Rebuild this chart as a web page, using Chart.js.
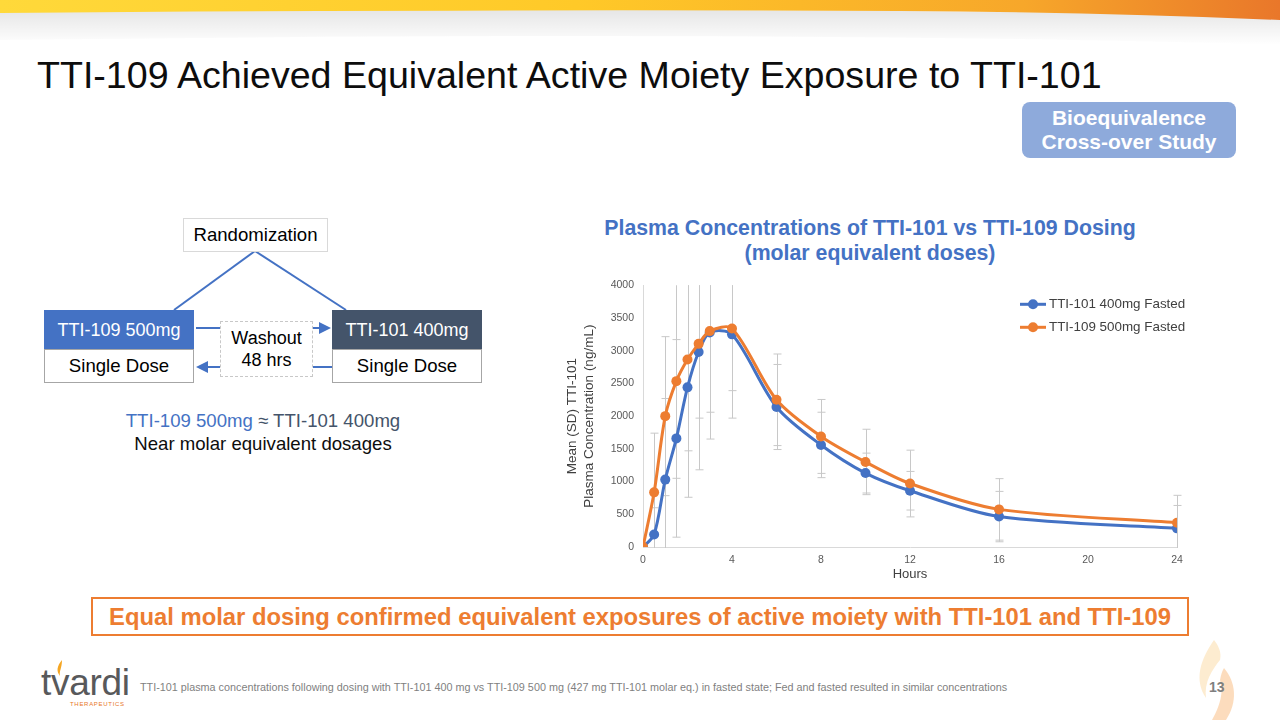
<!DOCTYPE html>
<html>
<head>
<meta charset="utf-8">
<script src="https://cdn.jsdelivr.net/npm/chart.js@4"></script>
<style>
  html, body { margin: 0; padding: 0; }
  body { width: 1280px; height: 720px; position: relative; overflow: hidden; background: #fff;
         font-family: "Liberation Sans", Arial, sans-serif; }
  .abs { position: absolute; }
  #title { left: 37px; top: 53px; font-size: 37.6px; color: #0d0d0d; line-height: 44px; white-space: nowrap; }
  #study { left: 1022px; top: 102px; width: 214px; height: 56px; border-radius: 8px; background: #8eaadb;
           color: #fff; font-weight: bold; font-size: 21px; line-height: 24px; text-align: center;
           display: flex; align-items: center; justify-content: center; }
  .box { position: absolute; box-sizing: border-box; display: flex; align-items: center; justify-content: center;
         font-size: 18.6px; white-space: nowrap; }
  #chartTitle { left: 560px; width: 620px; top: 216px; text-align: center; color: #4472c4; font-weight: bold;
                font-size: 21.3px; line-height: 25px; }
  #summary { left: 91px; top: 597px; width: 1098px; height: 39px; box-sizing: border-box; border: 2px solid #ed7d31;
             color: #ed7d31; font-weight: bold; font-size: 23.8px; display: flex; align-items: center; justify-content: center;
             white-space: nowrap; }
  #foot { left: 140px; top: 681px; font-size: 10.8px; color: #7f7f7f; white-space: nowrap; }
  #page { left: 1209px; top: 679px; font-size: 14px; font-weight: bold; color: #7f7f7f; }
</style>
</head>
<body>

<!-- top banner -->
<svg class="abs" style="left:0;top:0" width="1280" height="60">
  <defs>
    <linearGradient id="band" x1="0" x2="1" y1="0" y2="0">
      <stop offset="0" stop-color="#ffd93a"/>
      <stop offset="0.45" stop-color="#ffc928"/>
      <stop offset="0.8" stop-color="#f7a72a"/>
      <stop offset="1" stop-color="#e9772a"/>
    </linearGradient>
    <linearGradient id="shade" x1="0" x2="0" y1="0" y2="1">
      <stop offset="0" stop-color="#000" stop-opacity="0.10"/>
      <stop offset="1" stop-color="#000" stop-opacity="0"/>
    </linearGradient>
  </defs>
  <path d="M0,12 Q500,8 900,11 T1280,20 V45 Q800,30 0,40 Z" fill="url(#shade)"/>
  <path d="M0,0 H1280 V20 Q1100,12 900,11 Q500,9 0,13 Z" fill="url(#band)"/>
</svg>

<div id="title" class="abs">TTI-109 Achieved Equivalent Active Moiety Exposure to TTI-101</div>
<div id="study" class="abs">Bioequivalence<br>Cross-over Study</div>

<!-- study design diagram -->
<svg class="abs" style="left:0;top:0" width="560" height="460">
  <defs>
    <marker id="arr" markerWidth="6" markerHeight="6" refX="5" refY="3" orient="auto">
      <path d="M0,0 L6,3 L0,6 Z" fill="#4472c4"/>
    </marker>
  </defs>
  <line x1="255" y1="251" x2="174" y2="310" stroke="#4472c4" stroke-width="2"/>
  <line x1="255" y1="251" x2="346" y2="310" stroke="#4472c4" stroke-width="2"/>
  <line x1="196" y1="328" x2="329" y2="328" stroke="#4472c4" stroke-width="2" marker-end="url(#arr)"/>
  <line x1="332" y1="367" x2="198" y2="367" stroke="#4472c4" stroke-width="2" marker-end="url(#arr)"/>
</svg>
<div class="box" style="left:183px;top:218px;width:145px;height:34px;border:1px solid #d9d9d9;background:#fff;">Randomization</div>
<div class="box" style="left:44px;top:310px;width:150px;height:40px;background:#4472c4;color:#fff;font-size:18px;">TTI-109 500mg</div>
<div class="box" style="left:44px;top:349px;width:150px;height:34px;border:1px solid #a6a6a6;background:#fff;">Single Dose</div>
<div class="box" style="left:332px;top:310px;width:150px;height:40px;background:#44546a;color:#fff;font-size:18px;">TTI-101 400mg</div>
<div class="box" style="left:332px;top:349px;width:150px;height:34px;border:1px solid #a6a6a6;background:#fff;">Single Dose</div>
<div class="box" style="left:220px;top:321px;width:93px;height:56px;border:1px dashed #c8c8c8;background:#fff;line-height:22px;text-align:center;white-space:normal;font-size:18px;">Washout<br>48 hrs</div>
<div class="abs" style="left:44px;width:438px;top:409px;text-align:center;font-size:18.6px;line-height:23px;">
  <span style="color:#4472c4">TTI-109 500mg</span> <span style="color:#44546a">≈ TTI-101 400mg</span><br>
  <span style="color:#0d0d0d">Near molar equivalent dosages</span>
</div>

<div id="chartTitle" class="abs">Plasma Concentrations of TTI-101 vs TTI-109 Dosing<br>(molar equivalent doses)</div>
<canvas id="pk" class="abs" style="left:560px;top:270px" width="640" height="320"></canvas>

<div id="summary" class="abs">Equal molar dosing confirmed equivalent exposures of active moiety with TTI-101 and TTI-109</div>

<!-- footer -->
<div class="abs" style="left:41px;top:663px;font-size:37px;color:#58595b;letter-spacing:-0.3px;line-height:40px;">tvardi</div>
<svg class="abs" style="left:51px;top:659px" width="20" height="22">
  <path d="M11,1 C6,7 5,12 9,17 C8,12 11,9 11,1 Z" fill="#f5a623"/>
</svg>
<div class="abs" style="left:70px;top:701px;font-size:6px;color:#e8772a;letter-spacing:0.7px;">THERAPEUTICS</div>
<div id="foot" class="abs">TTI-101 plasma concentrations following dosing with TTI-101 400 mg vs TTI-109 500 mg (427 mg TTI-101 molar eq.) in fasted state; Fed and fasted resulted in similar concentrations</div>
<svg class="abs" style="left:1190px;top:630px" width="70" height="90">
  <path d="M24,10 C10,30 4,50 16,68 C14,52 22,40 30,30 C32,22 28,15 24,10 Z" fill="#fde7c4" opacity="0.8"/>
  <path d="M34,38 C46,52 48,72 36,90 L22,90 C30,76 34,62 30,50 C31,45 32,41 34,38 Z" fill="#fbd3ad" opacity="0.8"/>
</svg>
<div id="page" class="abs">13</div>

<script>
// sampling times (hours)
const hours = [0, 0.5, 1, 1.5, 2, 2.5, 3, 4, 6, 8, 10, 12, 16, 24];
// mean plasma concentration, ng/mL
const tti101Mean = [0, 190, 1030, 1660, 2440, 2980, 3280, 3250, 2140, 1560, 1130, 860, 465, 285];
const tti109Mean = [0, 835, 2000, 2535, 2865, 3105, 3300, 3340, 2250, 1690, 1300, 970, 575, 370];
// standard deviations
const tti101SD = [0, 410, 1240, 1510, 1680, 1800, 1630, 1280, 650, 500, 305, 295, 385, 350];
const tti109SD = [0, 905, 1215, 1485, 1395, 1135, 1240, 950, 700, 565, 500, 510, 470, 420];
const seriesNames = ["TTI-101 400mg Fasted", "TTI-109 500mg Fasted"];
const xTicks = [0, 4, 8, 12, 16, 20, 24];

const blue = "#4472c4", orange = "#ed7d31";
const FONT = "'Liberation Sans', Arial, sans-serif";

// error bars, drawn under the lines
const errorBars = {
  id: "errorBars",
  beforeDatasetsDraw(chart) {
    const { ctx, chartArea, scales: { x, y } } = chart;
    const sds = [tti101SD, tti109SD];
    ctx.save();
    ctx.beginPath();
    ctx.rect(chartArea.left - 10, chartArea.top, chartArea.width + 20, chartArea.height + 1);
    ctx.clip();
    ctx.strokeStyle = "#c8c8c8";
    ctx.lineWidth = 1;
    chart.data.datasets.forEach((ds) => {
      ds.data.forEach((pt) => {
        const sd = sds[ds.sdIndex][hours.indexOf(pt.x)];
        if (!sd) return;
        const px = Math.round(x.getPixelForValue(pt.x)) + 0.5;
        const top = y.getPixelForValue(pt.y + sd);
        const bot = y.getPixelForValue(pt.y - sd);
        ctx.beginPath();
        ctx.moveTo(px, top); ctx.lineTo(px, bot);
        ctx.moveTo(px - 4, top); ctx.lineTo(px + 4, top);
        ctx.moveTo(px - 4, bot); ctx.lineTo(px + 4, bot);
        ctx.stroke();
      });
    });
    ctx.restore();
  }
};

// legend inside the plot, top right
const innerLegend = {
  id: "innerLegend",
  afterDraw(chart) {
    const { ctx, chartArea } = chart;
    const items = [[seriesNames[0], blue], [seriesNames[1], orange]];
    ctx.save();
    ctx.font = "13.4px " + FONT;
    ctx.textBaseline = "middle";
    items.forEach(([label, color], i) => {
      const x0 = chartArea.right - 157;
      const yy = chartArea.top + 19 + i * 23;
      ctx.strokeStyle = color;
      ctx.lineWidth = 3;
      ctx.beginPath(); ctx.moveTo(x0, yy); ctx.lineTo(x0 + 26, yy); ctx.stroke();
      ctx.fillStyle = color;
      ctx.beginPath(); ctx.arc(x0 + 13, yy, 5, 0, Math.PI * 2); ctx.fill();
      ctx.fillStyle = "#404040";
      ctx.fillText(label, x0 + 29, yy);
    });
    ctx.restore();
  }
};

const toPoints = (vals) => hours.map((h, i) => ({ x: h, y: vals[i] }));

new Chart(document.getElementById("pk"), {
  type: "line",
  data: {
    datasets: [
      { label: seriesNames[0], data: toPoints(tti101Mean), sdIndex: 0, borderColor: blue, backgroundColor: blue,
        borderWidth: 3, pointRadius: 5, pointBorderWidth: 0, tension: 0.3, order: 1 },
      { label: seriesNames[1], data: toPoints(tti109Mean), sdIndex: 1, borderColor: orange, backgroundColor: orange,
        borderWidth: 3, pointRadius: 5, pointBorderWidth: 0, tension: 0.3, order: 0 }
    ]
  },
  options: {
    responsive: false,
    animation: false,
    layout: { padding: { top: 11, right: 23, left: 0, bottom: 0 } },
    plugins: { legend: { display: false }, tooltip: { enabled: false } },
    scales: {
      x: {
        type: "linear", min: 0, max: 24,
        afterBuildTicks: (s) => { s.ticks = xTicks.map(v => ({ value: v })); },
        afterFit: (s) => { s.height = 43; },
        grid: { display: false, drawTicks: false },
        border: { display: true, color: "#d9d9d9", width: 1 },
        ticks: { padding: 7, color: "#595959", font: { size: 10.5, family: FONT } },
        title: { display: true, text: "Hours", color: "#404040", padding: { top: 0, bottom: 8 },
                 font: { size: 13, family: FONT } }
      },
      y: {
        min: 0, max: 4000,
        ticks: { stepSize: 500, padding: 9, color: "#595959", format: { useGrouping: false },
                 font: { size: 10.5, family: FONT } },
        afterFit: (s) => { s.width = 83; },
        grid: { display: false, drawTicks: false },
        border: { display: true, color: "#d9d9d9", width: 1 },
        title: { display: true, text: ["Mean (SD) TTI-101", "Plasma Concentration (ng/mL)"], color: "#404040",
                 padding: { top: 3.5, bottom: 0 },
                 font: { size: 13.5, lineHeight: 1.26, family: FONT } }
      }
    }
  },
  plugins: [errorBars, innerLegend]
});
</script>
</body>
</html>
